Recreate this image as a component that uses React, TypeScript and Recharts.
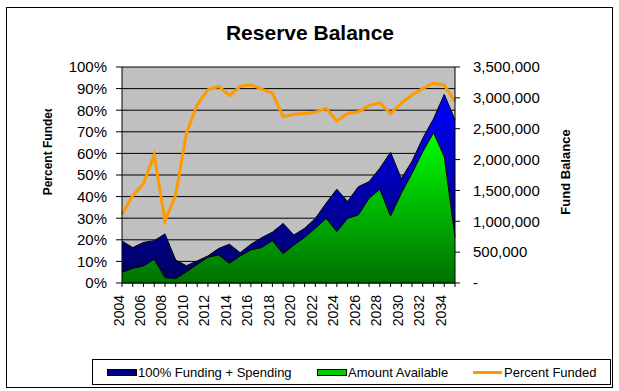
import React from "react";
import { ComposedChart, Area, Line, XAxis, YAxis, CartesianGrid } from "recharts";

const FONT = '"Liberation Sans", Arial, sans-serif';

const years = [
  "2004", "2005", "2006", "2007", "2008", "2009", "2010", "2011", "2012", "2013", "2014",
  "2015", "2016", "2017", "2018", "2019", "2020", "2021", "2022", "2023", "2024", "2025",
  "2026", "2027", "2028", "2029", "2030", "2031", "2032", "2033", "2034", "2035",
];

// 100% Funding + Spending ($)
const fundingPlusSpending = [
  679000, 574000, 658000, 686000, 795000, 371000, 280000, 357000, 438000, 560000, 627000,
  490000, 627000, 735000, 823000, 966000, 777000, 886000, 1047000, 1292000, 1519000, 1320000,
  1561000, 1642000, 1859000, 2118000, 1690000, 1974000, 2345000, 2660000, 3056000, 2643000,
];

// Amount Available ($)
const amountAvailable = [
  172000, 238000, 277000, 385000, 91000, 70000, 182000, 301000, 417000, 455000, 319000,
  438000, 536000, 574000, 686000, 473000, 616000, 739000, 886000, 1047000, 833000, 1047000,
  1103000, 1372000, 1519000, 1085000, 1453000, 1778000, 2128000, 2436000, 2048000, 749000,
];

// Percent Funded (%)
const percentFunded = [
  31.7, 40.5, 46, 59.3, 28.8, 40.7, 69.5, 82.5, 89.5, 91, 86.8,
  91, 91.8, 89.8, 87.9, 77, 78.1, 78.5, 79, 80.9, 75, 78.5,
  79.3, 82.1, 83.5, 78.4, 83.2, 87, 90.1, 92.4, 91.7, 84,
];

const pctTicks = [0, 10, 20, 30, 40, 50, 60, 70, 80, 90, 100];
const pctMinorTicks = Array.from({ length: 51 }, (_, i) => i * 2);
const fundTicks = [0, 500000, 1000000, 1500000, 2000000, 2500000, 3000000, 3500000];

const legendItems = [
  { name: "100% Funding + Spending", kind: "rect", color: "#000080" },
  { name: "Amount Available", kind: "rect", color: "#00cc00" },
  { name: "Percent Funded", kind: "line", color: "#ff9900" },
];

const data = years.map((year, i) => ({
  year,
  funding: fundingPlusSpending[i],
  available: amountAvailable[i],
  pct: percentFunded[i],
}));

const fmtFund = (v: number) => (v === 0 ? "-" : v.toLocaleString("en-US"));

function YearTick({ x, y, payload }: any) {
  if (Number(payload.value) % 2 !== 0) return <g />;
  return (
    <text
      x={x}
      y={y}
      dy={1.5}
      transform={`rotate(-90 ${x} ${y})`}
      textAnchor="end"
      fill="#000"
      fontSize={14}
      fontFamily={FONT}
    >
      {payload.value}
    </text>
  );
}

export default function App() {
  const legendX = [107, 317, 473];
  return (
    <div style={{ position: "absolute", left: 0, top: 0, width: 619, height: 391, background: "#fff", fontFamily: FONT }}>
      <ComposedChart
        width={619}
        height={391}
        data={data}
        margin={{ top: 67, right: 0, bottom: 0, left: 0 }}
        style={{ fontFamily: FONT }}
      >
        <defs>
          <linearGradient id="blueFill" x1="0" y1="0" x2="0" y2="1">
            <stop offset="0" stopColor="#0000ff" />
            <stop offset="1" stopColor="#000060" />
          </linearGradient>
          <linearGradient id="greenFill" x1="0" y1="0" x2="0" y2="1">
            <stop offset="0" stopColor="#00ff00" />
            <stop offset="1" stopColor="#007000" />
          </linearGradient>
        </defs>
        <CartesianGrid vertical={false} stroke="#000" fill="#c0c0c0" fillOpacity={1} />
        <XAxis
          dataKey="year"
          interval={0}
          height={108}
          tickSize={4}
          tickMargin={8}
          stroke="#000"
          tick={<YearTick />}
        />
        <YAxis
          yAxisId="minor"
          orientation="left"
          width={0}
          mirror
          domain={[0, 100]}
          ticks={pctMinorTicks}
          interval={0}
          tick={false}
          axisLine={false}
          tickSize={4}
          stroke="#000"
        />
        <YAxis
          orientation="left"
          width={122}
          domain={[0, 100]}
          ticks={pctTicks}
          interval={0}
          tickSize={6}
          tickMargin={9}
          stroke="#000"
          tick={{ fill: "#000", fontSize: 15, fontFamily: FONT }}
          tickFormatter={(v: number) => `${v}%`}
        />
        <YAxis
          yAxisId="amt"
          orientation="right"
          width={164}
          domain={[0, 3500000]}
          ticks={fundTicks}
          interval={0}
          tickSize={5}
          tickMargin={13}
          stroke="#000"
          tick={{ fill: "#000", fontSize: 15, fontFamily: FONT }}
          tickFormatter={fmtFund}
        />
        <Area
          yAxisId="amt"
          type="linear"
          dataKey="funding"
          name="100% Funding + Spending"
          stroke="#000"
          strokeWidth={1}
          fill="url(#blueFill)"
          fillOpacity={1}
          isAnimationActive={false}
        />
        <Area
          yAxisId="amt"
          type="linear"
          dataKey="available"
          name="Amount Available"
          stroke="#000"
          strokeWidth={1}
          fill="url(#greenFill)"
          fillOpacity={1}
          isAnimationActive={false}
        />
        <Line
          type="linear"
          dataKey="pct"
          name="Percent Funded"
          stroke="#ff9900"
          strokeWidth={3}
          dot={false}
          isAnimationActive={false}
        />
      </ComposedChart>

      <svg
        width={619}
        height={391}
        style={{ position: "absolute", left: 0, top: 0, pointerEvents: "none" }}
        fontFamily={FONT}
      >
        <defs>
          <clipPath id="pctTitleClip">
            <rect x={0} y={109} width={100} height={120} />
          </clipPath>
        </defs>
        <rect x={6.5} y={7.5} width={606} height={380} fill="none" stroke="#000" />
        <text x={310} y={40} textAnchor="middle" fontSize={21} fontWeight="bold" fill="#000">
          Reserve Balance
        </text>
        <g clipPath="url(#pctTitleClip)">
          <text
            x={52}
            y={150}
            transform="rotate(-90 52 150)"
            textAnchor="middle"
            fontSize={12}
            fontWeight="bold"
            fill="#000"
          >
            Percent Funded
          </text>
        </g>
        <text
          x={570}
          y={172}
          transform="rotate(-90 570 172)"
          textAnchor="middle"
          fontSize={13}
          fontWeight="bold"
          fill="#000"
        >
          Fund Balance
        </text>
        <rect x={92.5} y={359.5} width={518} height={25} fill="#fff" stroke="#000" />
        {legendItems.map((item, i) => {
          const lx = legendX[i];
          return (
            <g key={item.name}>
              {item.kind === "rect" ? (
                <rect x={lx + 0.5} y={369.5} width={29} height={6} fill={item.color} stroke="#000" />
              ) : (
                <line x1={lx} x2={lx + 29} y1={372.5} y2={372.5} stroke={item.color} strokeWidth={3} />
              )}
              <text x={lx + 31} y={377} fontSize={13} fill="#000">
                {item.name}
              </text>
            </g>
          );
        })}
      </svg>
    </div>
  );
}
